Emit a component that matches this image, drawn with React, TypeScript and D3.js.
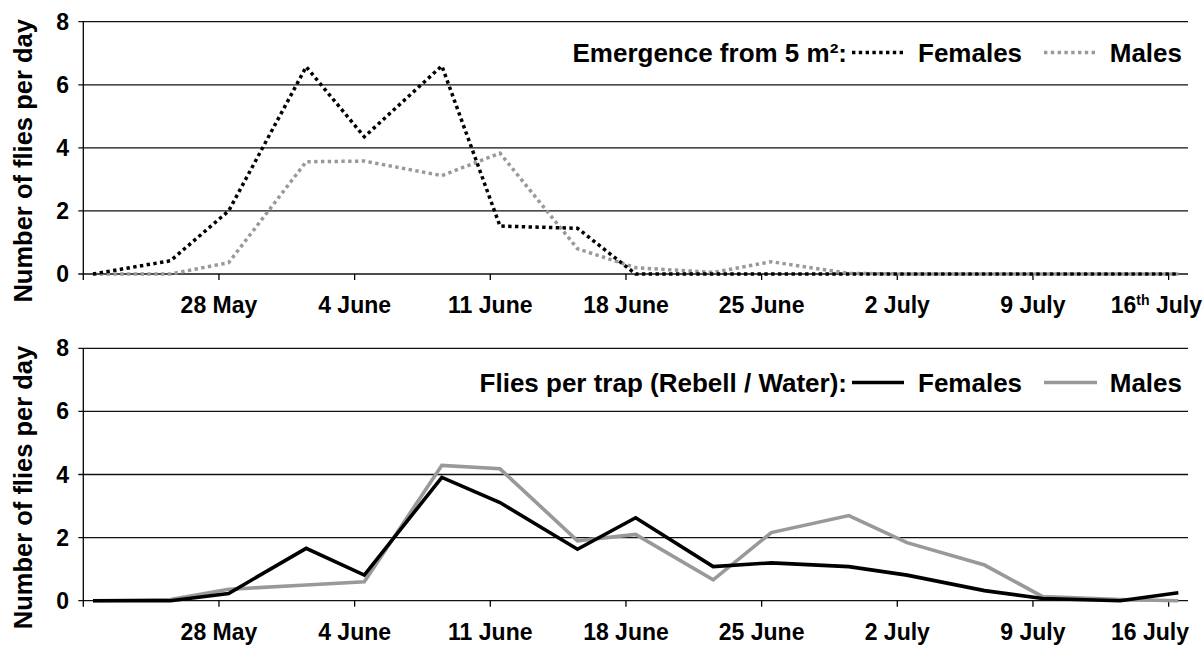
import React from "react";
import * as d3 from "d3";

// ---- data ----
const sampleDates = [
  "2008-05-21T12:00Z", "2008-05-25T12:00Z", "2008-05-28T12:00Z", "2008-06-01T12:00Z",
  "2008-06-04T12:00Z", "2008-06-08T12:00Z", "2008-06-11T12:00Z", "2008-06-15T12:00Z",
  "2008-06-18T12:00Z", "2008-06-22T12:00Z", "2008-06-25T12:00Z", "2008-06-29T12:00Z",
  "2008-07-02T12:00Z", "2008-07-06T12:00Z", "2008-07-09T12:00Z", "2008-07-13T12:00Z",
  "2008-07-16T12:00Z",
];
const emergenceFemales = [0, 0.42, 2.0, 6.57, 4.35, 6.6, 1.52, 1.45, 0, 0, 0, 0, 0, 0, 0, 0, 0];
const emergenceMales = [0, 0, 0.36, 3.56, 3.58, 3.12, 3.83, 0.8, 0.2, 0.05, 0.39, 0.02, 0, 0, 0, 0, 0];
const trapFemales = [0, 0, 0.23, 1.66, 0.81, 3.91, 3.11, 1.63, 2.63, 1.08, 1.2, 1.08, 0.81, 0.32, 0.07, 0, 0.25];
const trapMales = [0, 0.04, 0.36, 0.5, 0.6, 4.29, 4.18, 1.9, 2.1, 0.66, 2.16, 2.7, 1.84, 1.13, 0.13, 0.04, 0];

const tickDates = [
  "2008-05-28T00:00Z", "2008-06-04T00:00Z", "2008-06-11T00:00Z", "2008-06-18T00:00Z",
  "2008-06-25T00:00Z", "2008-07-02T00:00Z", "2008-07-09T00:00Z", "2008-07-16T00:00Z",
];
const tickLabelsTop = ["28 May", "4 June", "11 June", "18 June", "25 June", "2 July", "9 July", "16th July"];
const tickLabelsBottom = ["28 May", "4 June", "11 June", "18 June", "25 June", "2 July", "9 July", "16 July"];
const yTicks = [0, 2, 4, 6, 8];

const FONT = "'Liberation Sans', Arial, Helvetica, sans-serif";
const W = 1204;
const H = 646;
const X0 = 83.3;
const X1 = 1188;

const x = d3
  .scaleUtc()
  .domain([new Date("2008-05-21T00:00Z"), new Date("2008-07-17T00:00Z")])
  .range([X0, X1]);

type PanelProps = {
  yTop: number;
  yBottom: number;
  females: number[];
  males: number[];
  dotted: boolean;
  labels: string[];
  labelBaseline: number;
  legendTitle: string;
  legendBaseline: number;
};

function Panel(p: PanelProps) {
  const y = d3.scaleLinear().domain([0, 8]).range([p.yBottom, p.yTop]);
  const pts = sampleDates.map((d) => new Date(d));
  const line = d3
    .line<number>()
    .x((_, i) => x(pts[i]))
    .y((v) => y(v));
  const sw = p.dotted ? 3.5 : 3.6;
  const dash = p.dotted ? "3.4 3.4" : undefined;
  const legY = p.legendBaseline - 9;
  const yMid = (p.yTop + p.yBottom) / 2 + 13;
  return (
    <g>
      {yTicks.map((t) => (
        <g key={t}>
          <line x1={X0 - 5} x2={X1} y1={y(t)} y2={y(t)} stroke="#111" strokeWidth={1.3} />
          <text
            x={69}
            y={y(t) + 8}
            textAnchor="end"
            fontFamily={FONT}
            fontWeight="bold"
            fontSize={23}
            fill="#000"
          >
            {t}
          </text>
        </g>
      ))}
      <line x1={X0} x2={X0} y1={p.yTop} y2={p.yBottom + 6} stroke="#000" strokeWidth={1.3} />
      {tickDates.map((d, i) => {
        const tx = x(new Date(d));
        const last = i === tickDates.length - 1;
        return (
          <g key={d}>
            <line x1={tx} x2={tx} y1={p.yBottom} y2={p.yBottom + 6} stroke="#000" strokeWidth={1.3} />
            {last && p.labels[i].startsWith("16th") ? (
              <text
                x={1202}
                y={p.labelBaseline}
                textAnchor="end"
                fontFamily={FONT}
                fontWeight="bold"
                fontSize={23}
              >
                16
                <tspan fontSize={14} dy={-8}>th</tspan>
                <tspan dy={8}> July</tspan>
              </text>
            ) : (
              <text
                x={last ? 1189 : tx}
                y={p.labelBaseline}
                textAnchor={last ? "end" : "middle"}
                fontFamily={FONT}
                fontWeight="bold"
                fontSize={23}
              >
                {p.labels[i]}
              </text>
            )}
          </g>
        );
      })}
      <path
        d={line(p.males) || ""}
        fill="none"
        stroke="#999"
        strokeWidth={sw}
        strokeDasharray={dash}
        strokeLinejoin="miter"
      />
      <path
        d={line(p.females) || ""}
        fill="none"
        stroke="#000"
        strokeWidth={sw}
        strokeDasharray={dash}
        strokeLinejoin="miter"
      />
      <text
        transform={`translate(31.5, ${yMid}) rotate(-90)`}
        textAnchor="middle"
        fontFamily={FONT}
        fontWeight="bold"
        fontSize={25.5}
      >
        Number of flies per day
      </text>
      {/* legend */}
      <text
        x={847}
        y={p.legendBaseline}
        textAnchor="end"
        fontFamily={FONT}
        fontWeight="bold"
        fontSize={26}
      >
        {p.legendTitle}
      </text>
      <line x1={852} x2={904} y1={legY} y2={legY} stroke="#000" strokeWidth={sw} strokeDasharray={dash} />
      <text x={918} y={p.legendBaseline} fontFamily={FONT} fontWeight="bold" fontSize={26}>
        Females
      </text>
      <line x1={1044} x2={1097} y1={legY} y2={legY} stroke="#999" strokeWidth={sw} strokeDasharray={dash} />
      <text
        x={1182}
        y={p.legendBaseline}
        textAnchor="end"
        fontFamily={FONT}
        fontWeight="bold"
        fontSize={26}
      >
        Males
      </text>
    </g>
  );
}

export default function App() {
  return (
    <svg
      width={W}
      height={H}
      viewBox={`0 0 ${W} ${H}`}
      style={{ position: "absolute", left: 0, top: 0, background: "#fff" }}
    >
      <rect width={W} height={H} fill="#fff" />
      <Panel
        yTop={21.7}
        yBottom={274}
        females={emergenceFemales}
        males={emergenceMales}
        dotted={true}
        labels={tickLabelsTop}
        labelBaseline={313}
        legendTitle="Emergence from 5 m²:"
        legendBaseline={61.5}
      />
      <Panel
        yTop={348.3}
        yBottom={600.7}
        females={trapFemales}
        males={trapMales}
        dotted={false}
        labels={tickLabelsBottom}
        labelBaseline={640}
        legendTitle="Flies per trap (Rebell / Water):"
        legendBaseline={391.5}
      />
    </svg>
  );
}
